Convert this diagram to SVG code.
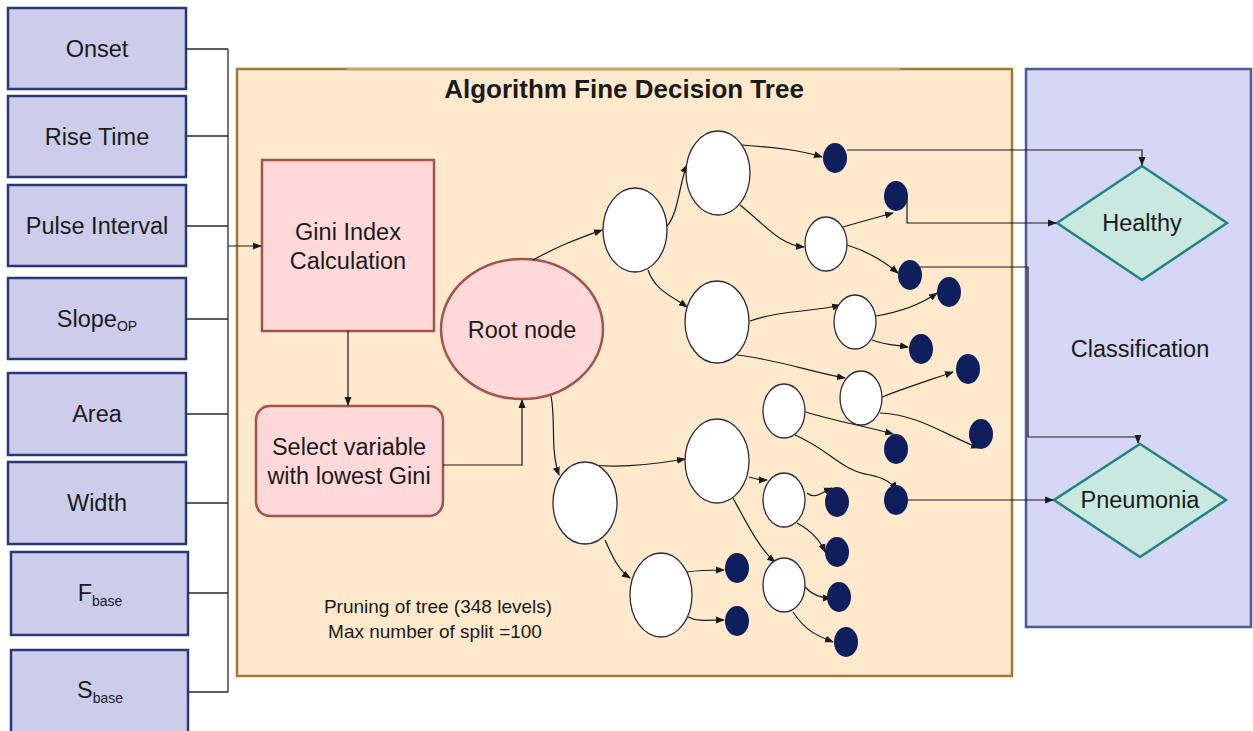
<svg xmlns="http://www.w3.org/2000/svg" width="1253" height="731" viewBox="0 0 1253 731">
<defs>
<marker id="ah" markerWidth="9" markerHeight="8" refX="8" refY="4" orient="auto" markerUnits="userSpaceOnUse">
<path d="M0,0.5 L9,4 L0,7.5 z" fill="#1a1a1a"/>
</marker>
</defs>
<style>
.inp rect {fill:#CDCDEB; stroke:#283878; stroke-width:2.5}
.lbl {font-family:"Liberation Sans", Arial, sans-serif; font-size:23.5px; fill:#1a1a1a; text-anchor:middle}
.sub {font-size:14px}
.wn {fill:#ffffff; stroke:#2a2a3a; stroke-width:1.3}
.lf {fill:#0F1F5E}
.edge {fill:none; stroke:#1a1a1a; stroke-width:1.2; marker-end:url(#ah)}
.wire {fill:none; stroke:#2a2a2a; stroke-width:1.3}
.pink {fill:#FFD9D9; stroke:#A3524E; stroke-width:2.5}
.dia {fill:#C8E8E0; stroke:#23847F; stroke-width:2.5}
</style>

<!-- feature inputs -->
<g id="in-onset" class="inp"><rect x="8" y="8" width="178" height="81"/><text class="lbl" x="97" y="57">Onset</text></g>
<g id="in-rise" class="inp"><rect x="8" y="96" width="178" height="81"/><text class="lbl" x="97" y="145">Rise Time</text></g>
<g id="in-pulse" class="inp"><rect x="8" y="185" width="178" height="81"/><text class="lbl" x="97" y="234">Pulse Interval</text></g>
<g id="in-slope" class="inp"><rect x="8" y="278" width="178" height="81"/><text class="lbl" x="97" y="327">Slope<tspan class="sub" dy="4">OP</tspan></text></g>
<g id="in-area" class="inp"><rect x="8" y="373" width="178" height="82"/><text class="lbl" x="97" y="422">Area</text></g>
<g id="in-width" class="inp"><rect x="8" y="462" width="178" height="82"/><text class="lbl" x="97" y="511">Width</text></g>
<g id="in-fbase" class="inp"><rect x="11" y="552" width="177" height="83"/><text class="lbl" x="100" y="601">F<tspan class="sub" dy="5">base</tspan></text></g>
<g id="in-sbase" class="inp"><rect x="11" y="650" width="177" height="84"/><text class="lbl" x="100" y="698">S<tspan class="sub" dy="5">base</tspan></text></g>

<!-- decision tree panel -->
<g id="tree-panel">
<rect x="237" y="69" width="775" height="607" fill="#FFE9CC" stroke="#9E7B3A" stroke-width="2.5"/>
<line x1="347" y1="69" x2="900" y2="69" stroke="#C9A56A" stroke-width="2.5"/>
<text class="lbl" x="624" y="98" style="font-weight:bold;font-size:26px">Algorithm Fine Decision Tree</text>
<text class="lbl" x="438" y="613" style="font-size:19px">Pruning of tree (348 levels)</text>
<text class="lbl" x="435" y="638" style="font-size:19px">Max number of split =100</text>
</g>

<!-- classification panel -->
<g id="class-panel">
<rect x="1026" y="69" width="225" height="558" fill="#D6D6F7" stroke="#4E5A96" stroke-width="2.5"/>
<text class="lbl" x="1140" y="357">Classification</text>
</g>

<g id="gini"><rect class="pink" x="262" y="160" width="172" height="171"/><text class="lbl" x="348" y="240">Gini Index</text><text class="lbl" x="348" y="269">Calculation</text></g>
<g id="select"><rect class="pink" x="256" y="406" width="187" height="110" rx="14"/><text class="lbl" x="349" y="455">Select variable</text><text class="lbl" x="349" y="484">with lowest Gini</text></g>
<g id="root"><ellipse class="pink" cx="522" cy="329" rx="81" ry="70"/><text class="lbl" x="522" y="338">Root node</text></g>

<g id="healthy"><polygon class="dia" points="1142,166 1227,223 1142,280 1057,223"/><text class="lbl" x="1142" y="231">Healthy</text></g>
<g id="pneumonia"><polygon class="dia" points="1140,444 1226,500 1140,557 1054,500"/><text class="lbl" x="1140" y="508">Pneumonia</text></g>

<!-- connectors -->
<g id="connectors">
<path class="wire" d="M186,49 H228 M186,136 H228 M186,226 H228 M186,319 H228 M186,414 H228 M186,503 H228 M188,593 H228 M188,692 H228 M228,49 V692"/>
<path class="edge" d="M228,246 H261" stroke-width="1.6"/>
<path class="edge" d="M348,331 V405"/>
<path class="edge" d="M443,465 H522 V400"/>

<path class="edge" d="M533,260 C560,245 580,238 602,230"/>
<path class="edge" d="M667,226 C678,215 680,180 687,165"/>
<path class="edge" d="M648,270 C655,290 670,295 687,307"/>
<path class="edge" d="M742,145 C780,148 800,150 822,157"/>
<path class="edge" d="M740,205 C765,225 780,245 804,247"/>
<path class="edge" d="M843,227 C860,222 875,218 893,213"/>
<path class="edge" d="M847,245 C870,252 885,262 898,273"/>
<path class="edge" d="M750,321 C780,310 815,312 840,305"/>
<path class="edge" d="M876,316 C900,312 920,305 937,293"/>
<path class="edge" d="M872,340 C885,345 895,345 908,347"/>
<path class="edge" d="M737,355 C780,360 810,372 845,378"/>
<path class="edge" d="M882,397 C905,388 930,380 953,372"/>
<path class="edge" d="M880,413 C920,415 945,435 979,448"/>
<path class="edge" d="M806,412 C830,420 860,425 893,434"/>
<path class="edge" d="M795,435 C830,450 840,470 870,475 C885,478 893,484 897,490"/>
<path class="edge" d="M551,396 C556,420 550,450 559,475"/>
<path class="edge" d="M592,465 C620,468 650,465 685,459"/>
<path class="edge" d="M605,540 C612,555 618,570 630,578"/>
<path class="edge" d="M749,477 C755,479 760,480 767,480"/>
<path class="edge" d="M733,498 C745,520 760,550 775,562"/>
<path class="edge" d="M807,493 C815,500 822,492 832,488"/>
<path class="edge" d="M797,523 C810,530 820,540 825,552"/>
<path class="edge" d="M805,587 C812,595 820,598 831,598"/>
<path class="edge" d="M793,612 C805,630 815,635 833,642"/>
<path class="edge" d="M687,572 C700,570 710,570 724,570"/>
<path class="edge" d="M688,617 C698,622 710,620 724,620"/>

<path class="edge" d="M847,150 H1142 V165"/>
<path class="edge" d="M907,198 V223 H1056"/>
<path class="edge" d="M909,282 V267 H1028 V437 H1138 V443"/>
<path class="edge" d="M908,500 H1053"/>
</g>

<!-- split nodes -->
<g id="split-nodes">
<ellipse id="n1" class="wn" cx="635" cy="230" rx="32" ry="42"/>
<ellipse id="n2" class="wn" cx="718" cy="173" rx="32" ry="42"/>
<ellipse id="n3" class="wn" cx="717" cy="322" rx="32" ry="41"/>
<ellipse id="n4" class="wn" cx="826" cy="244" rx="21" ry="27"/>
<ellipse id="n5" class="wn" cx="855" cy="322" rx="21" ry="27"/>
<ellipse id="n6" class="wn" cx="861" cy="398" rx="21" ry="27"/>
<ellipse id="n7" class="wn" cx="784" cy="411" rx="21" ry="27"/>
<ellipse id="n8" class="wn" cx="585" cy="503" rx="32" ry="41"/>
<ellipse id="n9" class="wn" cx="717" cy="461" rx="32" ry="42"/>
<ellipse id="n10" class="wn" cx="661" cy="595" rx="31" ry="42"/>
<ellipse id="n11" class="wn" cx="784" cy="500" rx="21" ry="27"/>
<ellipse id="n12" class="wn" cx="784" cy="585" rx="21" ry="27"/>
</g>

<!-- leaf nodes -->
<g id="leaf-nodes">
<ellipse id="l1" class="lf" cx="835" cy="158" rx="12" ry="15"/>
<ellipse id="l2" class="lf" cx="896" cy="196" rx="12" ry="15"/>
<ellipse id="l3" class="lf" cx="910" cy="275" rx="12" ry="15"/>
<ellipse id="l4" class="lf" cx="949" cy="292" rx="12" ry="15"/>
<ellipse id="l5" class="lf" cx="921" cy="349" rx="12" ry="15"/>
<ellipse id="l6" class="lf" cx="968" cy="369" rx="12" ry="15"/>
<ellipse id="l7" class="lf" cx="981" cy="434" rx="12" ry="15"/>
<ellipse id="l8" class="lf" cx="896" cy="449" rx="12" ry="15"/>
<ellipse id="l9" class="lf" cx="896" cy="500" rx="12" ry="15"/>
<ellipse id="l10" class="lf" cx="837" cy="502" rx="12" ry="15"/>
<ellipse id="l11" class="lf" cx="837" cy="552" rx="12" ry="15"/>
<ellipse id="l12" class="lf" cx="737" cy="568" rx="12" ry="15"/>
<ellipse id="l13" class="lf" cx="737" cy="621" rx="12" ry="15"/>
<ellipse id="l14" class="lf" cx="839" cy="597" rx="12" ry="15"/>
<ellipse id="l15" class="lf" cx="846" cy="642" rx="12" ry="15"/>
</g>
</svg>
